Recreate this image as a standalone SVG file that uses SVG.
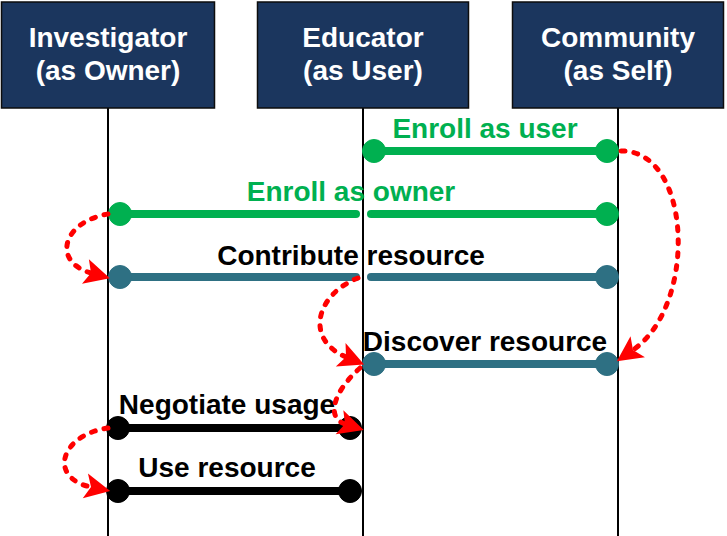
<svg xmlns="http://www.w3.org/2000/svg" width="727" height="536" viewBox="0 0 727 536">
  <style>
    .box { fill: #1b365e; stroke: #0d0d0d; stroke-width: 1.5; }
    .life { stroke: #000; stroke-width: 2; }
    .hdr { font-family: "Liberation Sans", Arial, sans-serif; font-weight: bold; font-size: 28px; fill: #fff; text-anchor: middle; }
    .lbl { font-family: "Liberation Sans", Arial, sans-serif; font-weight: bold; font-size: 28px; text-anchor: middle; }
    .msg { stroke-width: 8; stroke-linecap: round; fill: none; }
    .green { stroke: #00b050; fill: #00b050; }
    .teal { stroke: #2e7083; fill: #2e7083; }
    .black { stroke: #000; fill: #000; }
    .gtext { fill: #00b050; }
    .ktext { fill: #000; }
    .flow { fill: none; stroke: #ff0000; stroke-width: 5; stroke-dasharray: 4 9; stroke-linecap: round; marker-end: url(#arr); }
  </style>
  <defs>
    <marker id="arr" markerUnits="userSpaceOnUse" markerWidth="30" markerHeight="30" viewBox="-2 -12 26 24" refX="5" refY="0" orient="auto" overflow="visible">
      <path d="M0,-11 L22,0 L0,11 L5,0 Z" fill="#ff0000"/>
    </marker>
  </defs>

  <g id="investigator">
    <line class="life" x1="108" y1="108" x2="108" y2="536"/>
    <rect class="box" x="1.5" y="2" width="213" height="106"/>
    <text class="hdr" x="108" y="47">Investigator</text>
    <text class="hdr" x="108" y="80">(as Owner)</text>
  </g>
  <g id="educator">
    <line class="life" x1="363" y1="108" x2="363" y2="536"/>
    <rect class="box" x="257.5" y="2" width="211" height="106"/>
    <text class="hdr" x="363" y="47">Educator</text>
    <text class="hdr" x="363" y="80">(as User)</text>
  </g>
  <g id="community">
    <line class="life" x1="618" y1="108" x2="618" y2="536"/>
    <rect class="box" x="512.5" y="2" width="211" height="106"/>
    <text class="hdr" x="618" y="47">Community</text>
    <text class="hdr" x="618" y="80">(as Self)</text>
  </g>

  <g id="messages">
    <g id="msg-enroll-user">
      <text class="lbl gtext" x="485" y="138">Enroll as user</text>
      <line class="msg green" x1="374" y1="151" x2="607" y2="151"/>
      <circle class="green" cx="374" cy="151" r="11.5"/>
      <circle class="green" cx="607" cy="151" r="11.5"/>
    </g>
    <g id="msg-enroll-owner">
      <text class="lbl gtext" x="351" y="201">Enroll as owner</text>
      <line class="msg green" x1="120" y1="214" x2="356" y2="214"/>
      <line class="msg green" x1="371" y1="214" x2="607" y2="214"/>
      <circle class="green" cx="120" cy="214" r="11.5"/>
      <circle class="green" cx="607" cy="214" r="11.5"/>
    </g>
    <g id="msg-contribute">
      <text class="lbl ktext" x="351" y="265">Contribute resource</text>
      <line class="msg teal" x1="120" y1="277" x2="356" y2="277"/>
      <line class="msg teal" x1="371" y1="277" x2="607" y2="277"/>
      <circle class="teal" cx="120" cy="277" r="11.5"/>
      <circle class="teal" cx="607" cy="277" r="11.5"/>
    </g>
    <g id="msg-discover">
      <text class="lbl ktext" x="485" y="351">Discover resource</text>
      <line class="msg teal" x1="374" y1="364" x2="607" y2="364"/>
      <circle class="teal" cx="374" cy="364" r="11.5"/>
      <circle class="teal" cx="607" cy="364" r="11.5"/>
    </g>
    <g id="msg-negotiate">
      <text class="lbl ktext" x="227" y="414">Negotiate usage</text>
      <line class="msg black" x1="118" y1="428" x2="350" y2="428"/>
      <circle class="black" cx="118" cy="428" r="11.5"/>
      <circle class="black" cx="350" cy="428" r="11.5"/>
    </g>
    <g id="msg-use">
      <text class="lbl ktext" x="227" y="477">Use resource</text>
      <line class="msg black" x1="118" y1="491" x2="350" y2="491"/>
      <circle class="black" cx="118" cy="491" r="11.5"/>
      <circle class="black" cx="350" cy="491" r="11.5"/>
    </g>
  </g>

  <g id="connectors">
    <path class="flow" d="M621,151 C692,150 698,305 633,350"/>
    <path class="flow" d="M108,214 C62,222 52,262 91,273"/>
    <path class="flow" d="M358,278 C315,295 305,340 346,357"/>
    <path class="flow" d="M360,368 C333,392 326,418 345,424"/>
    <path class="flow" d="M108,428 C60,435 48,478 91,487"/>
  </g>
</svg>
